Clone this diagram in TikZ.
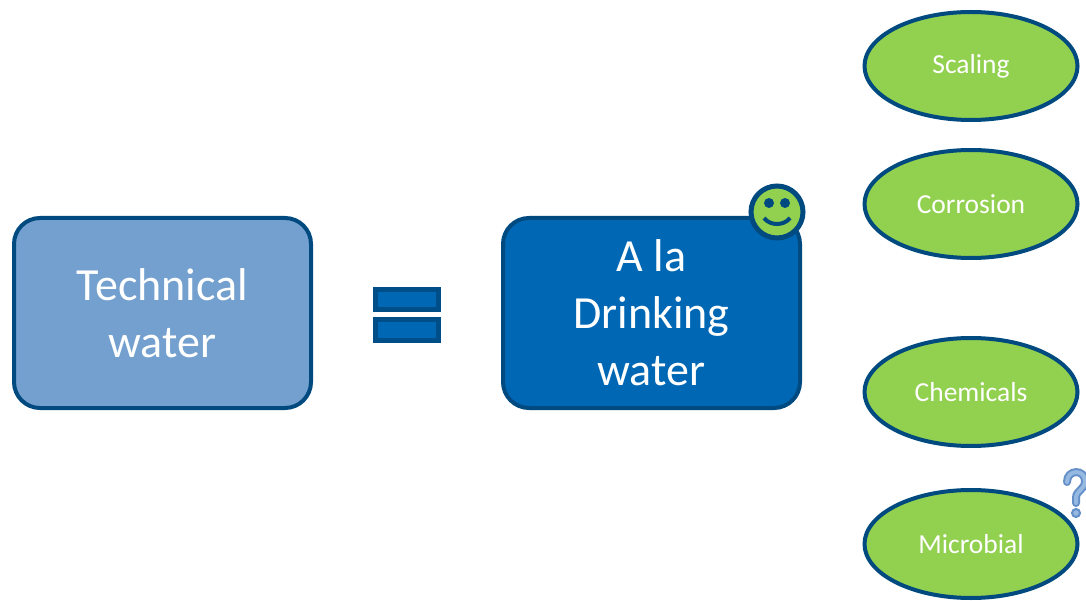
\documentclass[tikz,border=0pt]{standalone}
\usepackage{fontspec}
\setmainfont{Carlito}
\usetikzlibrary{shapes.geometric}
\definecolor{edgeblue}{RGB}{0,74,128}
\definecolor{techblue}{RGB}{115,160,206}
\definecolor{drinkblue}{RGB}{0,103,180}
\definecolor{leafgreen}{RGB}{146,208,80}
\definecolor{qdark}{RGB}{100,143,200}
\definecolor{qlight}{RGB}{150,185,225}
\begin{document}
\begin{tikzpicture}[x=1pt,y=-1pt,
  waterbox/.style={draw=edgeblue,line width=4pt,rounded corners=26pt,
    minimum width=297pt,minimum height=190pt,text=white,align=center,
    font=\fontsize{46}{57}\selectfont},
  issue/.style={ellipse,draw=edgeblue,line width=4pt,fill=leafgreen,
    minimum width=213pt,minimum height=108pt,text=white,
    font=\fontsize{27.5}{32}\selectfont},
  bar/.style={draw=edgeblue!85!drinkblue,line width=5pt,fill=drinkblue}]
\useasboundingbox (0,0) rectangle (1086,601);
% the two waters
\node[waterbox,fill=techblue] (tech) at (162.5,313) {Technical\\water};
\node[waterbox,fill=drinkblue] (drink) at (651.5,313) {A la\\Drinking\\water};
% equals sign
\draw[bar] (375.5,289.5) rectangle (438.5,309.5);
\draw[bar] (375.5,319.5) rectangle (438.5,340.5);
% smiley
\node[circle,draw=edgeblue,line width=5pt,fill=leafgreen,minimum size=52pt] (smiley) at (777,212) {};
\fill[edgeblue] (769,203) circle (5) (785,203) circle (5);
\draw[edgeblue,line width=4pt] (764,218) .. controls (770,226) and (784,226) .. (790,218);
% concerns
\foreach \y/\name/\txt in {66/scaling/Scaling,204/corrosion/Corrosion,392/chemicals/Chemicals,544/microbial/Microbial}
  \node[issue] (\name) at (971,\y) {\txt};
% question mark
\draw[qdark,line width=8pt,line cap=round] (1067,482) .. controls (1067,469) and (1085,469) .. (1085,481) .. controls (1085,490) and (1076,490) .. (1076,498) -- (1076,503);
\draw[qlight,line width=4pt,line cap=round] (1067,482) .. controls (1067,469) and (1085,469) .. (1085,481) .. controls (1085,490) and (1076,490) .. (1076,498) -- (1076,503);
\filldraw[draw=qdark,fill=qlight,line width=2pt] (1076,513) circle (4);
\end{tikzpicture}
\end{document}
